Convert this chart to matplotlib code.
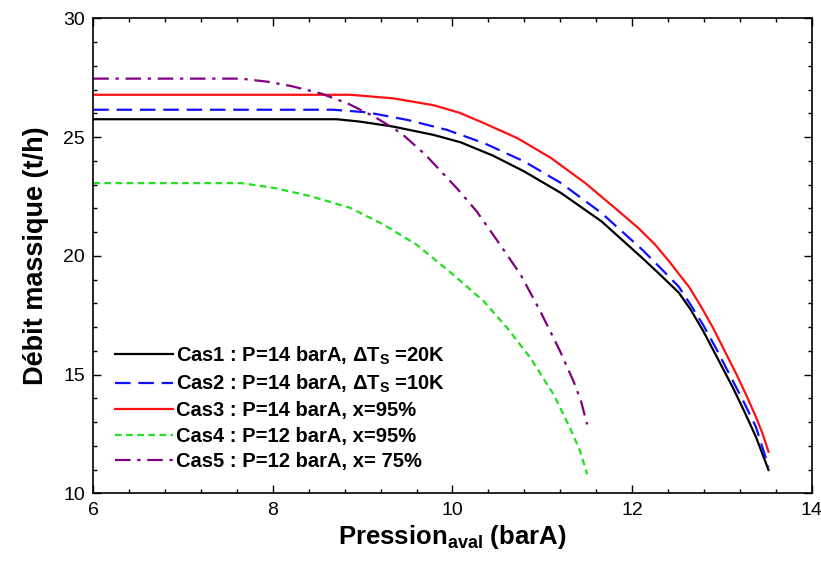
import numpy as np
import matplotlib
matplotlib.use("Agg")
import matplotlib.pyplot as plt
from matplotlib.ticker import MultipleLocator

plt.rcParams["font.family"] = ["Liberation Sans", "DejaVu Sans"]
plt.rcParams["mathtext.fontset"] = "custom"
plt.rcParams["mathtext.rm"] = "Liberation Sans:bold"
plt.rcParams["mathtext.default"] = "rm"

# values
cas1_x = [6.0, 8.71, 8.97, 9.34, 9.79, 10.09, 10.45, 10.80, 11.21, 11.66, 12.11, 12.30, 12.52, 12.65, 12.79,
          12.95, 13.12, 13.25, 13.38, 13.52]
cas1_y = [25.75, 25.75, 25.65, 25.44, 25.09, 24.78, 24.22, 23.55, 22.64, 21.45, 19.92, 19.25, 18.45, 17.75, 16.85,
          15.70, 14.47, 13.45, 12.37, 10.98]

cas2_x = [6.0, 8.67, 9.05, 9.50, 9.94, 10.36, 10.80, 11.21, 11.66, 12.11, 12.30, 12.52, 12.65, 12.79, 12.95,
          13.12, 13.25, 13.38, 13.52]
cas2_y = [26.15, 26.15, 26.04, 25.72, 25.30, 24.73, 23.97, 23.06, 21.80, 20.27, 19.55, 18.70, 17.95, 17.10, 16.00,
          14.75, 13.80, 12.79, 11.12]

cas3_x = [6.0, 8.86, 9.34, 9.79, 10.08, 10.36, 10.73, 11.10, 11.48, 11.81, 12.07, 12.25, 12.41, 12.64,
          12.77, 12.90, 13.16, 13.27, 13.38, 13.45, 13.52]
cas3_y = [26.78, 26.78, 26.63, 26.34, 26.02, 25.57, 24.94, 24.11, 23.06, 22.01, 21.17, 20.50, 19.78, 18.66,
          17.85, 16.98, 15.03, 14.15, 13.21, 12.55, 11.75]

cas4_x = [6.0, 7.65, 8.01, 8.42, 8.86, 9.23, 9.60, 10.01, 10.35, 10.61, 10.87, 11.13, 11.31, 11.42, 11.50]
cas4_y = [23.06, 23.06, 22.86, 22.51, 22.02, 21.32, 20.47, 19.20, 18.08, 16.96, 15.69, 14.14, 12.74, 11.80, 10.80]

cas5_x = [6.0, 7.64, 7.94, 8.20, 8.53, 8.83, 9.13, 9.43, 9.70, 10.05, 10.27, 10.53, 10.76, 10.98, 11.20,
          11.35, 11.43, 11.50]
cas5_y = [27.46, 27.46, 27.33, 27.15, 26.84, 26.42, 25.86, 25.16, 24.25, 22.84, 21.87, 20.47, 19.20, 17.65, 15.97,
          14.70, 13.90, 12.90]

labels = [
    r"Cas1 : P=14 barA, ΔT$_{\mathregular{S}}$ =20K",
    r"Cas2 : P=14 barA, ΔT$_{\mathregular{S}}$ =10K",
    "Cas3 : P=14 barA, x=95%",
    "Cas4 : P=12 barA, x=95%",
    "Cas5 : P=12 barA, x= 75%",
]

fig = plt.figure(figsize=(8.21, 5.70), dpi=100)
ax = fig.add_axes([0.1136, 0.1346, 0.875, 0.8333])

ax.plot(cas1_x, cas1_y, color="black", lw=1.6, label=labels[0])
ax.plot(cas2_x, cas2_y, color="#1010ff", lw=1.6, dashes=(7, 3.5), label=labels[1])
ax.plot(cas3_x, cas3_y, color="#ff1010", lw=1.6, label=labels[2])
ax.plot(cas4_x, cas4_y, color="#20e020", lw=1.6, dashes=(3, 2), label=labels[3])
ax.plot(cas5_x, cas5_y, color="#800080", lw=1.6, dashes=(7, 3, 1.5, 3), label=labels[4])

ax.set_xlim(6, 14)
ax.set_ylim(10, 30)
ax.xaxis.set_major_locator(MultipleLocator(2))
ax.xaxis.set_minor_locator(MultipleLocator(0.4))
ax.yaxis.set_major_locator(MultipleLocator(5))
ax.yaxis.set_minor_locator(MultipleLocator(1))
ax.tick_params(which="both", direction="in", top=True, right=True, labelsize=14, width=1)
ax.tick_params(which="major", length=6, pad=6)
ax.tick_params(which="minor", length=3)
for s in ax.spines.values():
    s.set_linewidth(1.2)

ax.set_xlabel(r"Pression$_{\mathregular{aval}}$ (barA)", fontsize=18.5, fontweight="bold", labelpad=3)
ax.set_ylabel("Débit massique (t/h)", fontsize=19.5, fontweight="bold", labelpad=10)

leg = ax.legend(loc="lower left", bbox_to_anchor=(0.03, 0.047), frameon=False,
                prop={"weight": "bold", "size": 14.5}, handlelength=2.9,
                handletextpad=0.15, labelspacing=0.31, borderpad=0, borderaxespad=0)

fig.savefig("out.png", dpi=100)
